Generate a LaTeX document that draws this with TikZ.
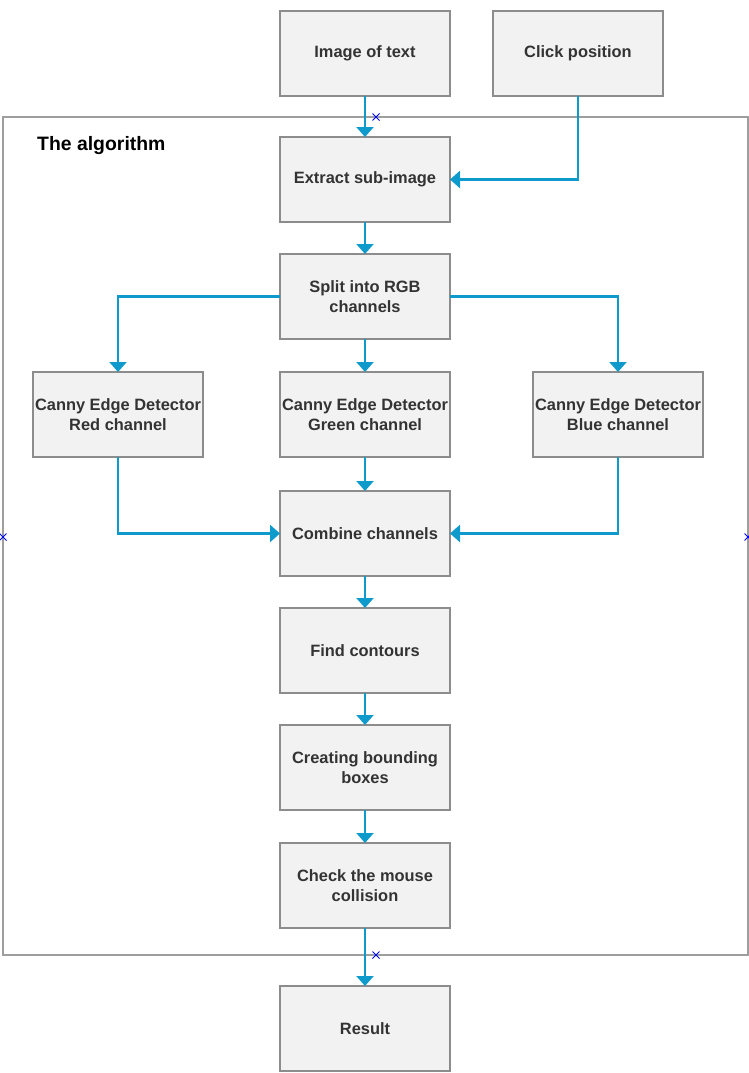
\documentclass[tikz,border=0pt]{standalone}
\usepackage{fontspec}
\setmainfont{Liberation Sans}
\usetikzlibrary{arrows.meta}
\definecolor{flowblue}{HTML}{0F9ACC}
\definecolor{boxfill}{HTML}{F2F2F2}
\definecolor{boxline}{HTML}{8C8C8C}
\definecolor{frameline}{HTML}{9E9E9E}
\definecolor{txt}{HTML}{333333}
\tikzset{
  stepbox/.style={draw=boxline, line width=1.1pt, fill=boxfill, minimum width=170pt, minimum height=85pt,
    inner sep=0pt, outer sep=0pt, align=center, text=txt,
    font=\fontsize{16.4}{20}\selectfont\bfseries},
  flow/.style={draw=flowblue, line width=2.4pt, -{Triangle[length=10pt 0,width=17pt 0]}},
  xmark/.style={draw=blue, line width=0.9pt}
}
\begin{document}
\begin{tikzpicture}[x=1pt,y=1pt]
\useasboundingbox (0,0) rectangle (749,-1073);
% container
\draw[frameline, line width=1.2pt] (3,-117) rectangle (748,-955);
\node[anchor=west, inner sep=0pt, font=\fontsize{19.4}{22}\selectfont\bfseries, text=black] (title) at (37,-146) {The algorithm};
% nodes
\node[stepbox] (img) at (365,-53.5) {Image of text};
\node[stepbox] (click) at (578,-53.5) {Click position};
\node[stepbox] (extract) at (365,-179.5) {Extract sub-image};
\node[stepbox] (split) at (365,-296.5) {Split into RGB\\channels};
\node[stepbox] (red) at (118,-414.5) {Canny Edge Detector\\Red channel};
\node[stepbox] (green) at (365,-414.5) {Canny Edge Detector\\Green channel};
\node[stepbox] (blue) at (618,-414.5) {Canny Edge Detector\\Blue channel};
\node[stepbox] (combine) at (365,-533.5) {Combine channels};
\node[stepbox] (find) at (365,-650.5) {Find contours};
\node[stepbox] (bbox) at (365,-767.5) {Creating bounding\\boxes};
\node[stepbox] (check) at (365,-885.5) {Check the mouse\\collision};
\node[stepbox] (result) at (365,-1028.5) {Result};
% connectors
\draw[flow] (img) -- (extract);
\draw[flow] (click.south) |- (extract.east);
\draw[flow] (extract) -- (split);
\draw[flow] (split.west) -| (red.north);
\draw[flow] (split) -- (green);
\draw[flow] (split.east) -| (blue.north);
\draw[flow] (red.south) |- (combine.west);
\draw[flow] (green) -- (combine);
\draw[flow] (blue.south) |- (combine.east);
\draw[flow] (combine) -- (find);
\draw[flow] (find) -- (bbox);
\draw[flow] (bbox) -- (check);
\draw[flow] (check) -- (result);
% blue markers
\foreach \p in {(376,-117),(3,-537),(748,-537),(376,-955)} {
  \draw[xmark] \p ++(-3.5,-3.5) -- ++(7,7) \p ++(-3.5,3.5) -- ++(7,-7);
}
\end{tikzpicture}
\end{document}
